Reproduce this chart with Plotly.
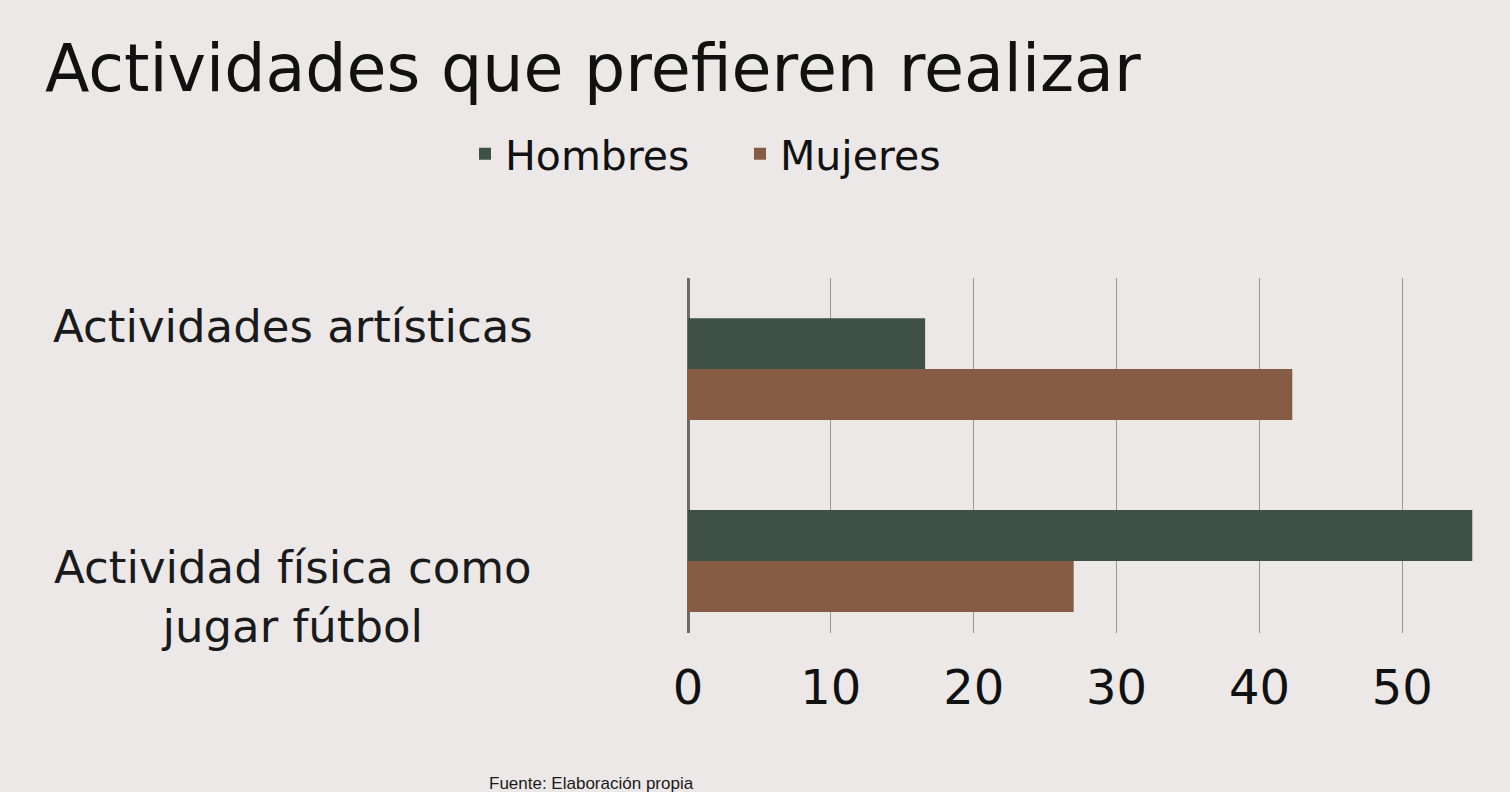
import plotly.graph_objects as go

# Data
categorias = ["Actividad física como<br>jugar fútbol", "Actividades artísticas"]
hombres = [54.9, 16.6]
mujeres = [27.0, 42.3]
x_ticks = [0, 10, 20, 30, 40, 50]

COLOR_H = "#3f5046"
COLOR_M = "#875c45"
BG = "#ece8e7"
FONT = "DejaVu Sans"

# plot area in pixels
L, R, T, B = 688, 22, 278, 159
PW = 1510 - L - R
PH = 792 - T - B


def px_x(px):
    return (px - L) / PW


fig = go.Figure()

# Mujeres first so Hombres sits on top in each group
fig.add_trace(go.Bar(
    y=categorias, x=mujeres, orientation="h", name="Mujeres",
    marker=dict(color=COLOR_M, line=dict(width=0))
))
fig.add_trace(go.Bar(
    y=categorias, x=hombres, orientation="h", name="Hombres",
    marker=dict(color=COLOR_H, line=dict(width=0))
))

# category labels as centred annotations
label_shift = [-36, 43]
for cat, dy in zip(categorias, label_shift):
    fig.add_annotation(
        x=px_x(293), xref="paper", y=cat, yref="y",
        text=cat, showarrow=False, align="center",
        xanchor="center", yanchor="middle", yshift=dy,
        font=dict(family=FONT, size=45, color="#1a1a1a")
    )

fig.add_annotation(
    x=px_x(487), xref="paper", y=-(772 - 633) / PH, yref="paper",
    text="Fuente: Elaboración propia", showarrow=False,
    xanchor="left", yanchor="top",
    font=dict(family="Liberation Sans", size=17, color="#1a1a1a")
)

fig.update_layout(
    width=1510, height=792,
    paper_bgcolor=BG, plot_bgcolor=BG,
    margin=dict(l=L, r=R, t=T, b=B, autoexpand=False),
    title=dict(
        text="Actividades que prefieren realizar",
        x=45 / 1510, xanchor="left", y=1 - 68 / 792, yanchor="middle",
        font=dict(family=FONT, size=65, color="#111111")
    ),
    barmode="group", bargap=0.47, bargroupgap=0,
    legend=dict(
        orientation="h", traceorder="reversed",
        x=px_x(465), xanchor="left", y=1 + 124 / PH, yanchor="middle",
        entrywidth=230, entrywidthmode="pixels",
        font=dict(family=FONT, size=41, color="#111111"),
        bgcolor="rgba(0,0,0,0)"
    ),
    xaxis=dict(
        range=[0, 56], tickvals=x_ticks,
        showgrid=True, gridcolor="#979797", gridwidth=1,
        zeroline=True, zerolinecolor="#6a6a6a", zerolinewidth=3,
        showline=False, ticks="",
        tickfont=dict(family=FONT, size=48, color="#111111"),
        ticklabelstandoff=22
    ),
    yaxis=dict(
        type="category", range=[-0.375, 1.474],
        showticklabels=False, showgrid=False, zeroline=False, showline=False
    ),
    showlegend=True
)

fig.write_html(
    "out.html",
    config={"displayModeBar": False},
    post_script="document.body.style.margin='0';"
)
